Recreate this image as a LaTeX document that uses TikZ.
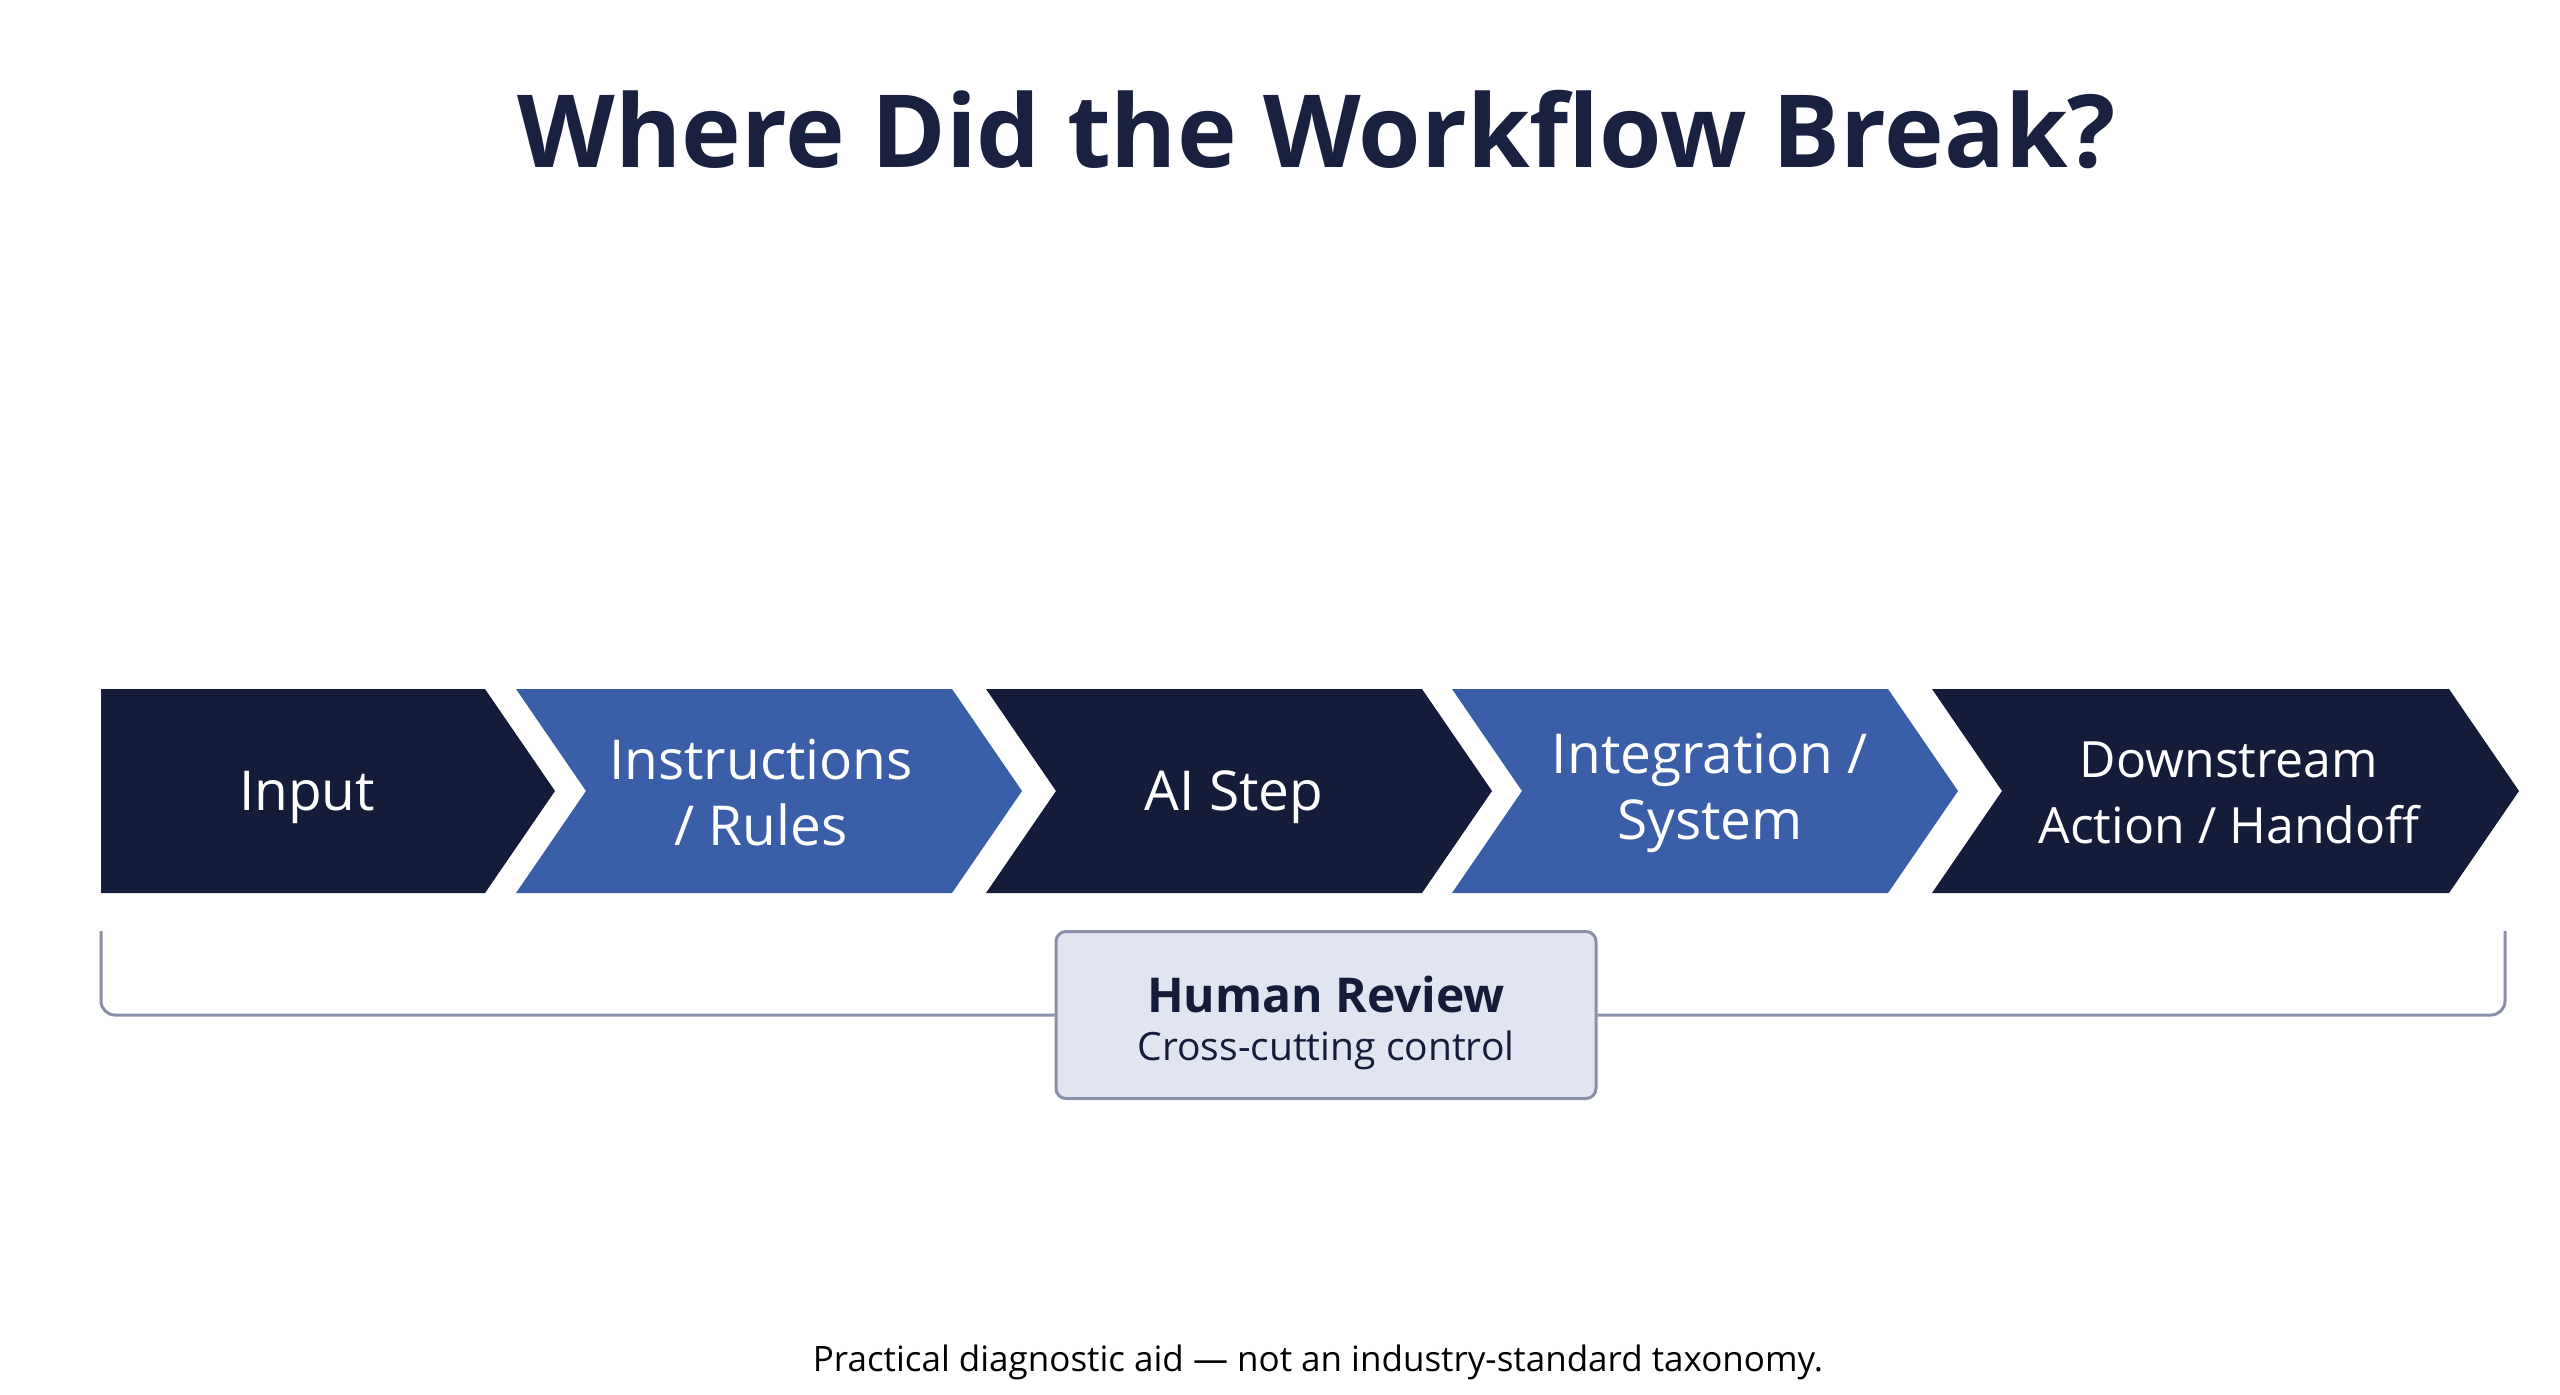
\documentclass[tikz,border=0pt]{standalone}
\usepackage{fontspec}
\setmainfont{Open Sans}
\definecolor{navy}{HTML}{151C3A}
\definecolor{blu}{HTML}{3A5FA8}
\definecolor{brk}{HTML}{8A8FA8}
\definecolor{boxf}{HTML}{E1E5F1}
\definecolor{ttl}{HTML}{1A2140}
\begin{document}
\begin{tikzpicture}[x=1pt,y=-1pt,
  lab/.style={text=white,font=\fontsize{55}{66}\selectfont,align=center}]
\useasboundingbox[fill=white] (0,0) rectangle (2560,1395);
\node[font=\fontsize{101}{120}\selectfont\bfseries,text=ttl] (title) at (1317,130) {Where Did the Workflow Break?};
% chevrons
\fill[navy] (101,689) -- (485,689) -- (555,791) -- (485,893) -- (101,893) -- cycle;
\foreach \s/\c in {516/blu,986/navy,1452/blu}{
  \fill[\c] (\s,689) -- (\s+436,689) -- (\s+506,791) -- (\s+436,893) -- (\s,893) -- (\s+70,791) -- cycle;}
\fill[navy] (1932,689) -- (2449,689) -- (2519,791) -- (2449,893) -- (1932,893) -- (2002,791) -- cycle;
\node[lab] (n1) at (307,797) {Input};
\node[lab] (n2) at (761,793) {Instructions\\/ Rules};
\node[lab] (n3) at (1234,797) {AI Step};
\node[lab] (n4) at (1710,793) {Integration /\\System};
\node[lab,font=\fontsize{50}{66}\selectfont] (n5) at (2229,793) {Downstream\\Action / Handoff};
% human review
\node[draw=brk,line width=3pt,fill=boxf,rounded corners=10pt,minimum width=540pt,minimum height=167pt,inner sep=0pt] (hr) at (1326,1015) {};
\node[font=\fontsize{48}{60}\selectfont\bfseries,text=navy] (hrt) at (1326,994) {Human Review};
\node[font=\fontsize{39}{48}\selectfont,text=navy] (hrs) at (1326,1050) {Cross-cutting control};
\coordinate (bl) at (101,931);
\coordinate (br) at (2505,931);
\draw[brk,line width=3pt,rounded corners=14pt] (bl) |- (hr.west);
\draw[brk,line width=3pt,rounded corners=14pt] (br) |- (hr.east);
\node[font=\fontsize{35}{42}\selectfont,text=black] (foot) at (1318,1362) {Practical diagnostic aid — not an industry-standard taxonomy.};
\end{tikzpicture}
\end{document}
